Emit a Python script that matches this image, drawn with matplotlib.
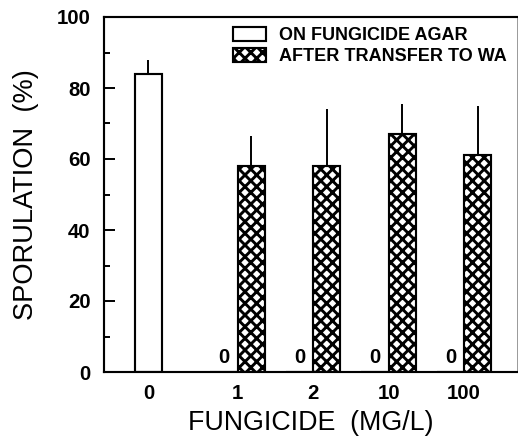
"""
 sporulation on fungicide agar and after transfer to water agar
"""
import numpy as np
import matplotlib
matplotlib.use('Agg')
import matplotlib.pyplot as plt

# data
dose_labels = ['0', '1', '2', '10', '100']
on_agar = [84, 0, 0, 0, 0]
on_agar_err = [4, 0, 0, 0, 0]
wa_doses = ['1', '2', '10', '100']
after_wa = [58, 58, 67, 61]
after_wa_err = [8.5, 16, 8.5, 14]

DPI = 70
plt.rcParams['font.family'] = ['Liberation Sans', 'DejaVu Sans']
plt.rcParams['hatch.linewidth'] = 3.0
plt.rcParams['hatch.color'] = 'black'

fig = plt.figure(figsize=(518 / DPI, 437 / DPI), dpi=DPI)
ax = fig.add_axes([104 / 518, 65 / 437, 413 / 518, 355 / 437])

w = 0.36
xg = np.arange(len(dose_labels))
x_agar = xg - w / 2
x_wa = np.array([dose_labels.index(d) for d in wa_doses]) + w / 2

ax.bar(x_agar, on_agar, w, color='white', edgecolor='black', lw=2.2,
       label='ON FUNGICIDE AGAR', zorder=2)
ax.bar(x_wa, after_wa, w, color='white', edgecolor='black', lw=2.2,
       hatch='xx', label='AFTER TRANSFER TO WA', zorder=2)

# upper error bars only
ax.errorbar(x_agar[:1], on_agar[:1], yerr=[[0], on_agar_err[:1]], fmt='none',
            ecolor='black', elinewidth=2, capsize=0, zorder=3)
ax.errorbar(x_wa, after_wa, yerr=[np.zeros(len(after_wa)), after_wa_err],
            fmt='none', ecolor='black', elinewidth=2, capsize=0, zorder=3)

# zero labels over the empty bars
for xa, v in zip(x_agar, on_agar):
    if v == 0:
        ax.text(xa, v + 1.3, '0', ha='center', va='bottom', fontsize=21,
                fontweight='bold')

ax.set_xlim(-0.768, 4.70)
ax.set_ylim(0, 100)
ax.set_xticks([x_agar[0]] + list(xg[1:]))
ax.set_xticklabels(dose_labels)
ax.set_yticks(np.arange(0, 101, 20))
ax.set_yticks(np.arange(10, 100, 20), minor=True)
ax.tick_params(axis='y', which='major', direction='in', length=11, width=2,
               labelsize=21, pad=14)
ax.tick_params(axis='y', which='minor', direction='in', length=6, width=2)
ax.tick_params(axis='x', length=0, labelsize=21, pad=12)
for lab in ax.get_xticklabels() + ax.get_yticklabels():
    lab.set_fontweight('bold')

ax.set_xlabel('FUNGICIDE  (MG/L)', fontsize=27.5, labelpad=8)
ax.set_ylabel('SPORULATION  (%)', fontsize=28, labelpad=18)

for s in ['left', 'bottom', 'top']:
    ax.spines[s].set_linewidth(2.2)
ax.spines['right'].set_linewidth(1)
ax.spines['right'].set_color('0.6')

leg = ax.legend(loc='upper right', bbox_to_anchor=(1.0, 1.0), frameon=False,
                prop={'weight': 'bold', 'size': 18.5}, handlelength=1.8,
                handleheight=0.85, handletextpad=0.75, labelspacing=0.2,
                borderaxespad=0.15)

fig.savefig('out.png', dpi=DPI)
